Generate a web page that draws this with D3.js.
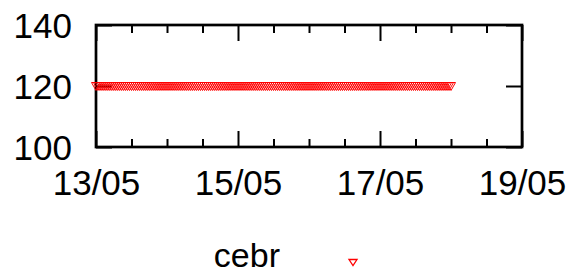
<!DOCTYPE html>
<html>
<head>
<meta charset="utf-8">
<script src="https://cdnjs.cloudflare.com/ajax/libs/d3/7.8.5/d3.min.js"></script>
<style>
  body { margin: 0; background: #fff; }
  text { font-family: "Liberation Sans", Arial, sans-serif; fill: #000; }
</style>
</head>
<body>
<div id="my_dataviz"></div>
<script>
// chart data
var seriesName = "cebr";
var yTicks = [100, 120, 140];
var xTickDates = ["2013-05-13", "2013-05-15", "2013-05-17", "2013-05-19"];
var xTickLabels = ["13/05", "15/05", "17/05", "19/05"];
var startTime = "2013-05-13 00:00";
var stepMinutes = 40;
var cebrValues = [
  120, 120, 120, 120, 120, 120, 120, 120, 120, 120, 120, 120, 120, 120, 120, 120, 120, 120, 120, 120,
  120, 120, 120, 120, 120, 120, 120, 120, 120, 120, 120, 120, 120, 120, 120, 120, 120, 120, 120, 120,
  120, 120, 120, 120, 120, 120, 120, 120, 120, 120, 120, 120, 120, 120, 120, 120, 120, 120, 120, 120,
  120, 120, 120, 120, 120, 120, 120, 120, 120, 120, 120, 120, 120, 120, 120, 120, 120, 120, 120, 120,
  120, 120, 120, 120, 120, 120, 120, 120, 120, 120, 120, 120, 120, 120, 120, 120, 120, 120, 120, 120,
  120, 120, 120, 120, 120, 120, 120, 120, 120, 120, 120, 120, 120, 120, 120, 120, 120, 120, 120, 120,
  120, 120, 120, 120, 120, 120, 120, 120, 120, 120, 120, 120, 120, 120, 120, 120, 120, 120, 120, 120,
  120, 120, 120, 120, 120, 120, 120, 120, 120, 120, 120, 120, 120, 120, 120, 120, 120, 120, 120, 120,
  120, 120, 120, 120, 120, 120, 120, 120, 120, 120, 120, 120, 120, 120, 120, 120, 120, 120, 120, 120,
  120
];

var parseDay = d3.utcParse("%Y-%m-%d");
var parseTime = d3.utcParse("%Y-%m-%d %H:%M");
var t0 = parseTime(startTime);
var data = cebrValues.map(function (v, i) {
  return { date: d3.utcMinute.offset(t0, i * stepMinutes), value: v };
});
var tickDates = xTickDates.map(parseDay);

// dimensions
var margin = { top: 25, right: 65, bottom: 128, left: 96 },
  width = 587 - margin.left - margin.right,
  height = 275 - margin.top - margin.bottom;

var svg = d3.select("#my_dataviz")
  .append("svg")
  .attr("width", 587)
  .attr("height", 275);

var g = svg.append("g")
  .attr("transform", "translate(" + margin.left + "," + margin.top + ")");

var x = d3.scaleUtc()
  .domain([tickDates[0], tickDates[tickDates.length - 1]])
  .range([0, width]);

var y = d3.scaleLinear()
  .domain([yTicks[0], yTicks[yTicks.length - 1]])
  .range([height, 0]);

var minorDates = d3.utcHour.every(12).range(x.domain()[0], x.domain()[1])
  .filter(function (d) { return d.getUTCHours() !== 0 || d.getUTCDate() % 2 === 0; });

function styleTicks(sel) {
  sel.select(".domain").remove();
  sel.selectAll(".tick line").attr("stroke", "#000").attr("stroke-width", 2);
  sel.selectAll(".tick text").style("font-size", "35px").attr("fill", "#000");
}

// minor x ticks (bottom + top)
g.append("g").attr("transform", "translate(0," + height + ")")
  .call(d3.axisBottom(x).tickValues(minorDates).tickSize(-8).tickFormat(""))
  .call(styleTicks);
g.append("g")
  .call(d3.axisTop(x).tickValues(minorDates).tickSize(-8).tickFormat(""))
  .call(styleTicks);

// major x ticks with labels
g.append("g").attr("transform", "translate(0," + height + ")")
  .call(d3.axisBottom(x).tickValues(tickDates).tickSize(-16).tickPadding(23)
    .tickFormat(function (d, i) { return xTickLabels[i]; }))
  .call(styleTicks);
g.append("g")
  .call(d3.axisTop(x).tickValues(tickDates).tickSize(-16).tickFormat(""))
  .call(styleTicks);

// y ticks
g.append("g")
  .call(d3.axisLeft(y).tickValues(yTicks).tickSize(-16).tickPadding(24).tickFormat(d3.format("d")))
  .call(styleTicks)
  .selectAll(".tick text").attr("dy", "0.36em");
g.append("g").attr("transform", "translate(" + width + ",0)")
  .call(d3.axisRight(y).tickValues(yTicks).tickSize(-16).tickFormat(""))
  .call(styleTicks);

// frame
g.append("rect")
  .attr("width", width)
  .attr("height", height)
  .attr("fill", "none")
  .attr("stroke", "#000")
  .attr("stroke-width", 2.7);

// open down triangle
var tri = "M-4.5,-3.5L4.5,-3.5L0,4.5Z";

g.selectAll(".pt")
  .data(data)
  .enter()
  .append("path")
  .attr("class", "pt")
  .attr("d", tri)
  .attr("transform", function (d) { return "translate(" + x(d.date) + "," + y(d.value) + ")"; })
  .attr("fill", "none")
  .attr("stroke", "#ff0000")
  .attr("stroke-width", 1);

// legend
svg.append("text")
  .attr("x", 280)
  .attr("y", 267)
  .attr("text-anchor", "end")
  .style("font-size", "34px")
  .text(seriesName);

svg.append("path")
  .attr("d", "M-4,-2.5L4,-2.5L0,3.5Z")
  .attr("transform", "translate(353,262)")
  .attr("fill", "none")
  .attr("stroke", "#ff0000")
  .attr("stroke-width", 1.3);
</script>
</body>
</html>
